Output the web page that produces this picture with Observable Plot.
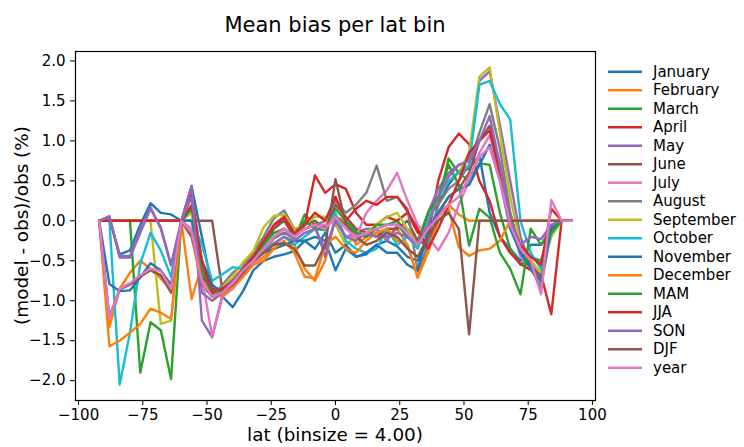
<!DOCTYPE html>
<html>
<head>
<meta charset="utf-8">
<script src="https://cdn.jsdelivr.net/npm/d3@7"></script>
<script src="https://cdn.jsdelivr.net/npm/@observablehq/plot@0.6"></script>
<style>
  html, body { margin: 0; padding: 0; background: #fff; }
  #chart { width: 744px; height: 447px; }
</style>
</head>
<body>
<div id="chart"></div>
<script>
const lats = [-92,-88,-84,-80,-76,-72,-68,-64,-60,-56,-52,-48,-44,-40,-36,-32,-28,-24,-20,-16,-12,-8,-4,0,4,8,12,16,20,24,28,32,36,40,44,48,52,56,60,64,68,72,76,80,84,88,92];

const seriesNames = ["January","February","March","April","May","June","July","August","September","October","November","December","MAM","JJA","SON","DJF","year"];
const seriesColors = ["#1f77b4","#ff7f0e","#2ca02c","#d62728","#9467bd","#8c564b","#e377c2","#7f7f7f","#bcbd22","#17becf","#1f77b4","#ff7f0e","#2ca02c","#d62728","#9467bd","#8c564b","#e377c2"];

const xTicks = [-100,-75,-50,-25,0,25,50,75,100];
const yTicks = [-2.0,-1.5,-1.0,-0.5,0.0,0.5,1.0,1.5,2.0];

const january = [0,0.02,-0.42,-0.37,-0.05,0.22,0.10,0.08,0, 0.43,-0.2,-0.85, -0.95,-1.08,-0.88,-0.62,-0.5,-0.45,-0.42,-0.38,-0.25,-0.2,-0.25,-0.62,-0.35,-0.45,-0.42,-0.3,-0.25,-0.32,-0.45,-0.5,-0.25, 0.2,0.45,0.62,0.65,0.82,0.1,-0.2,-0.35,-0.5,-0.3,-0.3,-0.1, 0,0];
const february = [0,-1.33,-0.85,-0.65,-0.5,-0.6,-0.72,-0.87,0, -0.98,-0.55,-0.9, -0.9,-0.8,-0.68,-0.55,-0.45,-0.35,-0.3,-0.3,-0.6,-0.75,-0.5,0.05,0.0,-0.3,-0.2,-0.15,-0.2,-0.1,-0.3,-0.71,-0.3, 0.1,0.2,0.08,0.0,0,0,0,0,0,0,0,0, 0,0];
const march = [0,0,0,0,-1.9,-1.27,-1.37,-1.98,0, 0.17,-0.8,-0.95, -0.9,-0.78,-0.62,-0.5,-0.38,-0.22,-0.15,-0.22,0.08,-0.05,-0.08,0.15,0.0,-0.12,-0.2,-0.1,-0.05,0.0,-0.15,-0.25,0.05, 0.2,0.78,0.6,0.5,0.72,0.7,0.1,-0.35,-0.55,-0.45,-0.5,-0.1, 0,0];
const april = [0,0,0,0,0,0,0,0,0, 0.33,-0.5,-0.85, -0.85,-0.75,-0.6,-0.45,-0.3,-0.1,0.04,-0.17,-0.05,0.57,0.35,0.46,0.4,0.1,-0.05,-0.05,0.05,0.0,0.1,-0.15,-0.2, 0.5,0.92,1.09,0.96,0.5,0.25,-0.2,-0.4,-0.54,-0.62,-0.67,-1.17, 0,0];
const may = [0,0.06,-0.46,-0.46,-0.15,0.15,-0.08,-0.55,0, 0.44,-1.25,-1.46, -0.92,-0.8,-0.65,-0.5,-0.35,-0.2,-0.15,-0.2,-0.1,-0.05,-0.45,0.05,-0.2,-0.15,-0.1,-0.1,-0.25,-0.05,-0.1,-0.25,0.1, 0.4,0.6,0.7,0.75,1.75,1.87,1.2,0.5,-0.2,-0.55,-0.7,-0.1, 0,0];
const june = [0,0,0,0,0,0,0,0,0, 0,0,0, -0.88,-0.8,-0.62,-0.48,-0.3,-0.1,0.0,-0.2,-0.05,0.0,-0.1,0.2,0.05,-0.1,-0.15,-0.2,-0.1,-0.1,0.0,-0.25,-0.3, 0.1,0.3,0.4,0.6,1.0,1.19,0.7,0.1,-0.4,-0.55,-0.7,-0.05, 0,0];
const july = [0,0,0,0,0,0,0,0,0, -0.1,-0.7,-1.45, -0.95,-0.85,-0.7,-0.55,-0.38,-0.2,-0.1,-0.2,-0.1,-0.05,-0.05,0.0,-0.2,-0.2,0.1,0.25,0.38,0.6,0.25,-0.05,-0.2, -0.37,-0.15,0.2,0.5,0.85,1.07,0.6,0.0,-0.45,-0.6,-0.8,-0.1, 0,0];
const august = [0,0,0,0,0,0,0,0,0, 0.0,-0.6,-0.95, -0.8,-0.65,-0.55,-0.4,-0.2,0.03,0.13,-0.1,-0.1,-0.05,0.0,0.25,0.1,0.2,0.35,0.69,0.25,0.3,0.15,-0.63,-0.3, 0.2,0.4,0.5,0.7,1.1,1.46,0.9,0.1,-0.4,-0.6,-0.83,-0.1, 0,0];
const september = [0,0,0,0,0,0,-1.29,-1.25,0, 0.1,-0.7,-0.9, -0.85,-0.7,-0.52,-0.38,-0.08,0.06,0.08,-0.1,-0.05,0.05,0.05,-0.05,-0.3,-0.2,-0.15,-0.05,0.05,0.1,-0.1,-0.3,0.0, 0.3,0.5,0.6,0.85,1.8,1.92,1.1,0.3,-0.3,-0.5,-0.65,-0.2, 0,0];
const october = [0,0,-2.05,-1.4,-0.54,-0.15,-0.37,-0.7,0, 0.0,-0.3,-0.75, -0.67,-0.58,-0.6,-0.45,-0.35,-0.3,-0.2,-0.3,-0.2,-0.1,-0.12,0.1,-0.25,-0.35,-0.4,-0.35,-0.1,-0.3,-0.2,-0.35,0.0, 0.3,0.5,0.6,0.7,1.7,1.75,1.46,1.27,0.0,-0.4,-0.6,-0.15, 0,0];
const november = [0,-0.79,-0.88,-0.87,-0.71,-0.53,-0.62,-0.8,0, 0.0,-0.5,-0.8, -0.9,-0.75,-0.6,-0.5,-0.4,-0.35,-0.3,-0.25,-0.25,-0.35,-0.15,-0.4,-0.3,-0.45,-0.4,-0.3,-0.4,-0.4,-0.55,-0.62,-0.1, 0.1,0.3,0.4,0.45,0.7,0.95,0.5,-0.1,-0.4,-0.6,-0.75,-0.1, 0,0];
const december = [0,-1.57,-1.5,-1.4,-1.29,-1.1,-1.15,-1.23,0, -0.2,-0.8,-0.88, -0.95,-0.82,-0.7,-0.55,-0.5,-0.35,-0.25,-0.4,-0.7,-0.72,-0.3,-0.2,-0.35,-0.4,-0.25,-0.15,-0.1,-0.25,-0.3,-0.71,-0.4, 0.0,0.15,-0.33,-0.44,-0.37,-0.35,-0.25,0,0,0,0,0, 0,0];
const mam = [0,0,0,0,0,0,0,0,0, 0.15,-0.6,-0.95, -0.88,-0.75,-0.6,-0.45,-0.3,-0.15,-0.1,-0.2,0.0,-0.1,-0.1,0.05,-0.05,-0.15,-0.2,-0.05,-0.05,-0.05,-0.2,-0.3,0.1, 0.3,0.7,0.45,-0.31,0.15,0.04,-0.4,-0.6,-0.92,-0.1,-0.3,-0.15, 0,0];
const jja = [0,0,0,0,0,0,0,0,0, 0.2,-0.5,-0.9, -0.85,-0.75,-0.6,-0.45,-0.25,-0.05,0.05,-0.15,-0.05,0.1,0.0,0.3,0.0,0.15,0.25,0.2,0.3,0.3,0.12,-0.1,-0.35, -0.1,0.2,0.5,0.85,1.0,1.13,0.6,0.0,-0.3,-0.45,-0.55,0.15, 0,0];
const son = [0,0.05,-0.44,-0.44,-0.12,0.17,-0.1,-0.56,0, 0.3,-0.9,-1.0, -0.9,-0.75,-0.62,-0.5,-0.4,-0.28,-0.2,-0.25,-0.15,-0.1,-0.35,0.0,-0.2,-0.25,-0.15,-0.2,-0.2,-0.15,-0.2,-0.3,-0.05, 0.3,0.55,0.7,0.75,1.0,1.31,0.7,0.0,-0.3,-0.2,-0.23,-0.05, 0,0];
const djf = [0,-1.2,-0.86,-0.8,-0.7,-0.62,-0.68,-0.9,0, -0.2,-0.7,-0.85, -0.9,-0.8,-0.65,-0.5,-0.4,-0.3,-0.28,-0.35,-0.56,-0.56,-0.3,0.52,-0.05,-0.2,-0.3,-0.25,-0.15,-0.2,-0.35,-0.45,-0.2, 0.0,0.1,-0.1,-1.42,0,0,0,0,0,0,0,0, 0,0];
const year = [0,-1.22,-0.85,-0.78,-0.68,-0.6,-0.63,-0.85,0, -0.15,-0.75,-0.95, -0.9,-0.78,-0.62,-0.5,-0.35,-0.2,-0.1,-0.2,-0.1,-0.05,-0.1,0.05,-0.1,-0.2,-0.15,-0.1,-0.05,-0.05,-0.15,-0.3,-0.1, 0.05,0.2,0.3,0.55,0.8,0.92,0.5,-0.05,-0.35,-0.5,-0.92,0.26, 0,0];

const seriesValues = [january,february,march,april,may,june,july,august,september,october,november,december,mam,jja,son,djf,year];

const rows = [];
seriesNames.forEach((name, i) => {
  seriesValues[i].forEach((v, j) => rows.push({series: name, idx: i, lat: lats[j], value: v}));
});

const W = 744, H = 447;
const mL = 75, mR = 149, mT = 51, mB = 47;

const svg = Plot.plot({
  width: W, height: H,
  marginLeft: mL, marginRight: mR, marginTop: mT, marginBottom: mB,
  style: {fontFamily: "DejaVu Sans", fontSize: "15px", background: "#fff", color: "#000", overflow: "visible"},
  x: {domain: [-101.2, 101.2], ticks: xTicks, tickFormat: d3.format("d"), tickSize: 5, tickPadding: 4, label: null},
  y: {domain: [-2.2485, 2.1185], ticks: yTicks, tickFormat: d3.format(".1f"), tickSize: 5, tickPadding: 5, label: null},
  color: {domain: d3.range(seriesNames.length), range: seriesColors},
  marks: [
    Plot.line(rows, {x: "lat", y: "value", z: "series", stroke: "idx", strokeWidth: 2.4, strokeLinejoin: "round", strokeLinecap: "round"}),
    Plot.frame({stroke: "#000", strokeWidth: 1.2})
  ]
});

const s = d3.select(svg);
s.append("text")
  .attr("x", (mL + W - mR) / 2).attr("y", 32)
  .attr("text-anchor", "middle")
  .style("font-family", "DejaVu Sans").style("font-size", "21px").attr("fill", "#000")
  .text("Mean bias per lat bin");
s.append("text")
  .attr("x", (mL + W - mR) / 2).attr("y", 441)
  .attr("text-anchor", "middle")
  .style("font-family", "DejaVu Sans").style("font-size", "18.4px").attr("fill", "#000")
  .text("lat (binsize = 4.00)");
s.append("text")
  .attr("transform", `translate(28,${(mT + H - mB) / 2}) rotate(-90)`)
  .attr("text-anchor", "middle")
  .style("font-family", "DejaVu Sans").style("font-size", "18.4px").attr("fill", "#000")
  .text("(model - obs)/obs (%)");

const lg = s.append("g").attr("text-anchor", "start");
seriesNames.forEach((name, i) => {
  const y = 71.7 + i * 18.5;
  lg.append("line").attr("x1", 608).attr("x2", 642).attr("y1", y).attr("y2", y)
    .attr("stroke", seriesColors[i]).attr("stroke-width", 2.4);
  lg.append("text").attr("x", 653).attr("y", y + 5.2)
    .attr("text-anchor", "start")
    .style("font-family", "DejaVu Sans").style("font-size", "15px").attr("fill", "#000")
    .text(name);
});

document.getElementById("chart").appendChild(svg);
</script>
</body>
</html>
